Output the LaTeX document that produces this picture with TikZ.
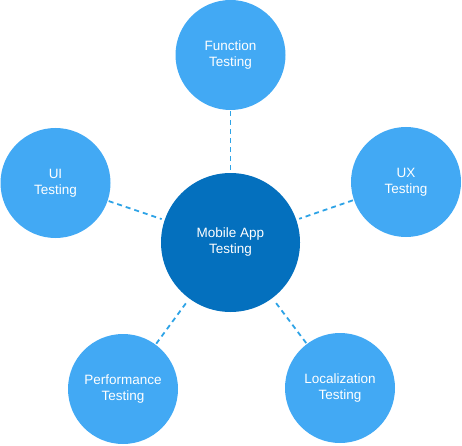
\documentclass[tikz,border=0pt]{standalone}
\usepackage{fontspec}
\setmainfont{Liberation Sans}
\usetikzlibrary{arrows.meta}
\definecolor{hubblue}{HTML}{0470BE}
\definecolor{leafblue}{HTML}{42A9F4}
\definecolor{dashblue}{HTML}{2EA3E6}

\begin{document}
\begin{tikzpicture}[x=1pt,y=1pt]
\useasboundingbox (0,0) rectangle (462,445);
\begin{scope}[every node/.style={circle,inner sep=0pt,align=center,text=white,
              font=\fontsize{13.5}{16}\selectfont}]
    \node [fill=hubblue,minimum size=139pt] (M) at (230.5,202.5) {Mobile App\\Testing};
    \node [fill=leafblue,minimum size=110pt] (F) at (230.5,390) {Function\\Testing};
    \node [fill=leafblue,minimum size=110pt] (UI) at (55.5,262) {UI\\Testing};
    \node [fill=leafblue,minimum size=110pt] (UX) at (406,263) {UX\\Testing};
    \node [fill=leafblue,minimum size=110pt] (P) at (123,56) {Performance\\Testing};
    \node [fill=leafblue,minimum size=110pt] (L) at (340,57) {Localization\\Testing};
\end{scope}

\begin{scope}[every edge/.style={draw=dashblue, line width=1.8pt,
              dash pattern=on 5pt off 4pt, shorten <=1pt, shorten >=3pt}]
    \path (F) edge (M);
    \path (UI) edge (M);
    \path (UX) edge (M);
    \path (P) edge (M);
    \path (L) edge (M);
\end{scope}
\end{tikzpicture}
\end{document}
